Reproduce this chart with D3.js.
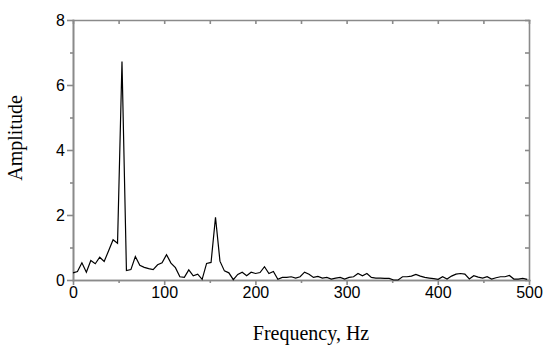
<!DOCTYPE html>
<meta charset="utf-8">
<html>
<head>
<title>Amplitude spectrum</title>
<script src="https://d3js.org/d3.v7.min.js"></script>
<style>
body { margin: 0; background: #fff; }
.tick text { font-family: "Liberation Sans", Arial, sans-serif; font-size: 16px; fill: #000; }
.axis path, .axis line { stroke: #8a8a8a; stroke-width: 1.6px; }
.title { font-family: "Liberation Serif", "Times New Roman", serif; font-size: 20px; fill: #000; }
</style>
</head>
<body>
<div id="chart"></div>
<script>

// frequency bins (Hz)
var freqs = [0, 4.88, 9.77, 14.65, 19.53, 24.41, 29.3, 34.18, 39.06, 43.95,
  48.83, 53.71, 58.59, 63.48, 68.36, 73.24, 78.13, 83.01, 87.89, 92.77,
  97.66, 102.54, 107.42, 112.3, 117.19, 122.07, 126.95, 131.84, 136.72, 141.6,
  146.48, 151.37, 156.25, 161.13, 166.02, 170.9, 175.78, 180.66, 185.55, 190.43,
  195.31, 200.2, 205.08, 209.96, 214.84, 219.73, 224.61, 229.49, 234.38, 239.26,
  244.14, 249.02, 253.91, 258.79, 263.67, 268.55, 273.44, 278.32, 283.2, 288.09,
  292.97, 297.85, 302.73, 307.62, 312.5, 317.38, 322.27, 327.15, 332.03, 336.91,
  341.8, 346.68, 351.56, 356.45, 361.33, 366.21, 371.09, 375.98, 380.86, 385.74,
  390.63, 395.51, 400.39, 405.27, 410.16, 415.04, 419.92, 424.8, 429.69, 434.57,
  439.45, 444.34, 449.22, 454.1, 458.98, 463.87, 468.75, 473.63, 478.52, 483.4,
  488.28, 493.16, 498.05];

// amplitude
var amps = [0.22, 0.26, 0.53, 0.24, 0.6, 0.5, 0.7, 0.57, 0.9, 1.24,
  1.13, 6.72, 0.29, 0.32, 0.72, 0.45, 0.39, 0.35, 0.32, 0.47,
  0.53, 0.78, 0.52, 0.38, 0.1, 0.08, 0.31, 0.13, 0.18, 0.02,
  0.51, 0.54, 1.93, 0.58, 0.28, 0.22, 0.01, 0.17, 0.24, 0.13,
  0.24, 0.2, 0.23, 0.41, 0.2, 0.26, 0.02, 0.08, 0.08, 0.1,
  0.06, 0.1, 0.24, 0.18, 0.08, 0.11, 0.06, 0.08, 0.03, 0.06,
  0.08, 0.03, 0.08, 0.1, 0.2, 0.13, 0.2, 0.08, 0.06, 0.06,
  0.05, 0.05, 0.0, 0.0, 0.1, 0.1, 0.12, 0.17, 0.12, 0.08,
  0.06, 0.04, 0.02, 0.1, 0.03, 0.12, 0.18, 0.2, 0.18, 0.03,
  0.13, 0.09, 0.06, 0.1, 0.03, 0.07, 0.1, 0.1, 0.14, 0.03,
  0.03, 0.05, 0.02];

var xMajor = [0, 100, 200, 300, 400, 500];
var xMinor = [50, 150, 250, 350, 450];
var yMajor = [0, 2, 4, 6, 8];
var yMinor = [1, 3, 5, 7];

var margin = {top: 20, right: 21, bottom: 71, left: 73},
    width = 550 - margin.left - margin.right,
    height = 351 - margin.top - margin.bottom;

var svg = d3.select("#chart")
  .append("svg")
    .attr("width", 550)
    .attr("height", 351)
  .append("g")
    .attr("transform", "translate(" + margin.left + "," + margin.top + ")");

var x = d3.scaleLinear().domain([0, 500]).range([0, width]);
var y = d3.scaleLinear().domain([0, 8]).range([height, 0]);

// bottom axis
svg.append("g").attr("class", "axis")
  .attr("transform", "translate(0," + height + ")")
  .call(d3.axisBottom(x).tickValues(xMajor).tickSize(5).tickSizeOuter(0).tickPadding(2));
svg.append("g").attr("class", "axis")
  .attr("transform", "translate(0," + height + ")")
  .call(d3.axisBottom(x).tickValues(xMinor).tickSize(3).tickSizeOuter(0).tickFormat(""));

// top axis (ticks inward)
svg.append("g").attr("class", "axis")
  .call(d3.axisBottom(x).tickValues(xMajor.concat(xMinor)).tickSize(4).tickSizeOuter(0).tickFormat(""));

// left axis
svg.append("g").attr("class", "axis")
  .call(d3.axisLeft(y).tickValues(yMajor).tickSize(6).tickSizeOuter(0).tickPadding(2));
svg.append("g").attr("class", "axis")
  .call(d3.axisLeft(y).tickValues(yMinor).tickSize(3).tickSizeOuter(0).tickFormat(""));

// right axis (ticks inward)
svg.append("g").attr("class", "axis")
  .attr("transform", "translate(" + width + ",0)")
  .call(d3.axisLeft(y).tickValues(yMajor.concat(yMinor)).tickSize(4).tickSizeOuter(0).tickFormat(""));

svg.selectAll(".axis path").attr("stroke-linecap", "square");

// spectrum line
var data = freqs.map(function(f, i) { return {f: f, a: amps[i]}; });
var line = d3.line()
  .x(function(d) { return x(d.f); })
  .y(function(d) { return y(d.a); });

svg.append("path")
  .datum(data)
  .attr("fill", "none")
  .attr("stroke", "#000")
  .attr("stroke-width", 1.2)
  .attr("stroke-linejoin", "miter")
  .attr("d", line);

// axis titles
svg.append("text")
  .attr("class", "title")
  .attr("x", 238)
  .attr("y", 320)
  .attr("text-anchor", "middle")
  .text("Frequency, Hz");

svg.append("text")
  .attr("class", "title")
  .attr("transform", "translate(-51,118) rotate(-90)")
  .attr("text-anchor", "middle")
  .text("Amplitude");

</script>
</body>
</html>
